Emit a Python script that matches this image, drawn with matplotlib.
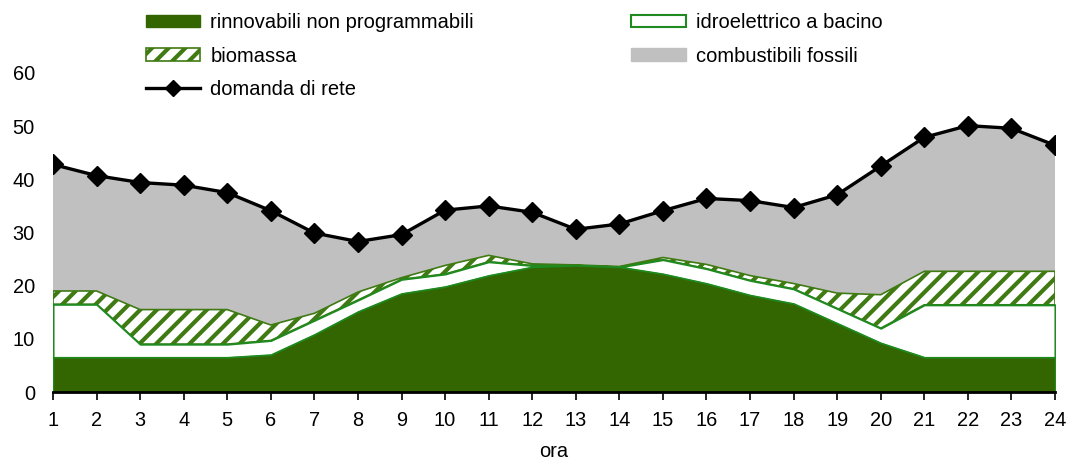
import numpy as np
import matplotlib.pyplot as plt
from matplotlib.patches import Patch
from matplotlib.lines import Line2D

plt.rcParams['font.family'] = ['Liberation Sans', 'DejaVu Sans']
plt.rcParams['hatch.linewidth'] = 3.0

# hourly data (GW), cumulative tops of each stacked layer
ore = list(range(1, 25))
rinnovabili = [6.5, 6.5, 6.5, 6.5, 6.5, 7.0, 10.8, 15.1, 18.5, 19.8, 21.9, 23.5,
               23.8, 23.5, 22.2, 20.4, 18.2, 16.6, 12.9, 9.2, 6.5, 6.5, 6.5, 6.5]
top_idro = [16.5, 16.5, 9.0, 9.0, 9.0, 9.7, 13.5, 17.3, 21.2, 22.2, 24.5, 23.8,
            23.8, 23.5, 24.9, 23.2, 21.0, 19.4, 15.7, 12.0, 16.4, 16.4, 16.4, 16.4]
top_biomassa = [19.0, 19.0, 15.5, 15.5, 15.5, 12.6, 14.8, 18.8, 21.5, 23.8, 25.7, 24.1,
                23.9, 23.6, 25.3, 24.0, 21.9, 20.4, 18.6, 18.3, 22.7, 22.7, 22.7, 22.7]
domanda = [42.8, 40.7, 39.4, 38.9, 37.5, 34.1, 29.9, 28.3, 29.6, 34.2, 35.0, 33.8,
           30.6, 31.6, 34.1, 36.4, 36.0, 34.7, 37.1, 42.5, 47.9, 50.1, 49.6, 46.4]

dark_green = '#336600'
edge_green = '#1f8a1f'
hatch_green = '#3f7a12'
grey = '#c0c0c0'

fig = plt.figure(figsize=(10.67, 4.62), dpi=100)
ax = fig.add_axes([53 / 1067, 1 - 392 / 462, (1055 - 53) / 1067, (392 - 73) / 462])

# stacked areas
ax.fill_between(ore, top_biomassa, domanda, facecolor=grey, edgecolor='none', zorder=1)
ax.fill_between(ore, top_idro, top_biomassa, facecolor='white', edgecolor=hatch_green,
                hatch='//', linewidth=1.2, zorder=2)
ax.fill_between(ore, rinnovabili, top_idro, facecolor='white', edgecolor=edge_green,
                linewidth=1.5, zorder=3)
ax.fill_between(ore, 0, rinnovabili, facecolor=dark_green, edgecolor=edge_green,
                linewidth=1.0, zorder=4)
ax.plot(ore, domanda, color='black', linewidth=2.4, marker='D', markersize=10,
        zorder=5)

ax.set_xlim(1, 24)
ax.set_ylim(0, 60)
ax.set_xticks(ore)
ax.set_yticks(range(0, 61, 10))
for s in ['top', 'right', 'left']:
    ax.spines[s].set_visible(False)
ax.spines['bottom'].set_linewidth(2)
ax.spines['bottom'].set_zorder(6)
ax.tick_params(axis='x', direction='out', length=6, width=1.2, labelsize=14.4, pad=8)
ax.tick_params(axis='y', length=0, labelsize=14.4, pad=13)
ax.set_xlabel('ora', fontsize=14.4, labelpad=8)

handles = [
    Patch(facecolor=dark_green, edgecolor=dark_green),
    Patch(facecolor='white', edgecolor=hatch_green, hatch='//', linewidth=1.2),
    Line2D([0], [0], color='black', linewidth=2.4, marker='D', markersize=8),
    Patch(facecolor='white', edgecolor=edge_green, linewidth=1.5),
    Patch(facecolor=grey, edgecolor=grey),
]
labels = ['rinnovabili non programmabili', 'biomassa', 'domanda di rete',
          'idroelettrico a bacino', 'combustibili fossili']
fig.legend(handles, labels, loc='upper left', bbox_to_anchor=(146 / 1067, 1 - 13 / 462),
           ncol=2, frameon=False, fontsize=14.5, handlelength=2.7, handleheight=0.6,
           handletextpad=0.5, columnspacing=7.8, labelspacing=0.72,
           borderpad=0, borderaxespad=0)

fig.savefig('out.png', dpi=100)
